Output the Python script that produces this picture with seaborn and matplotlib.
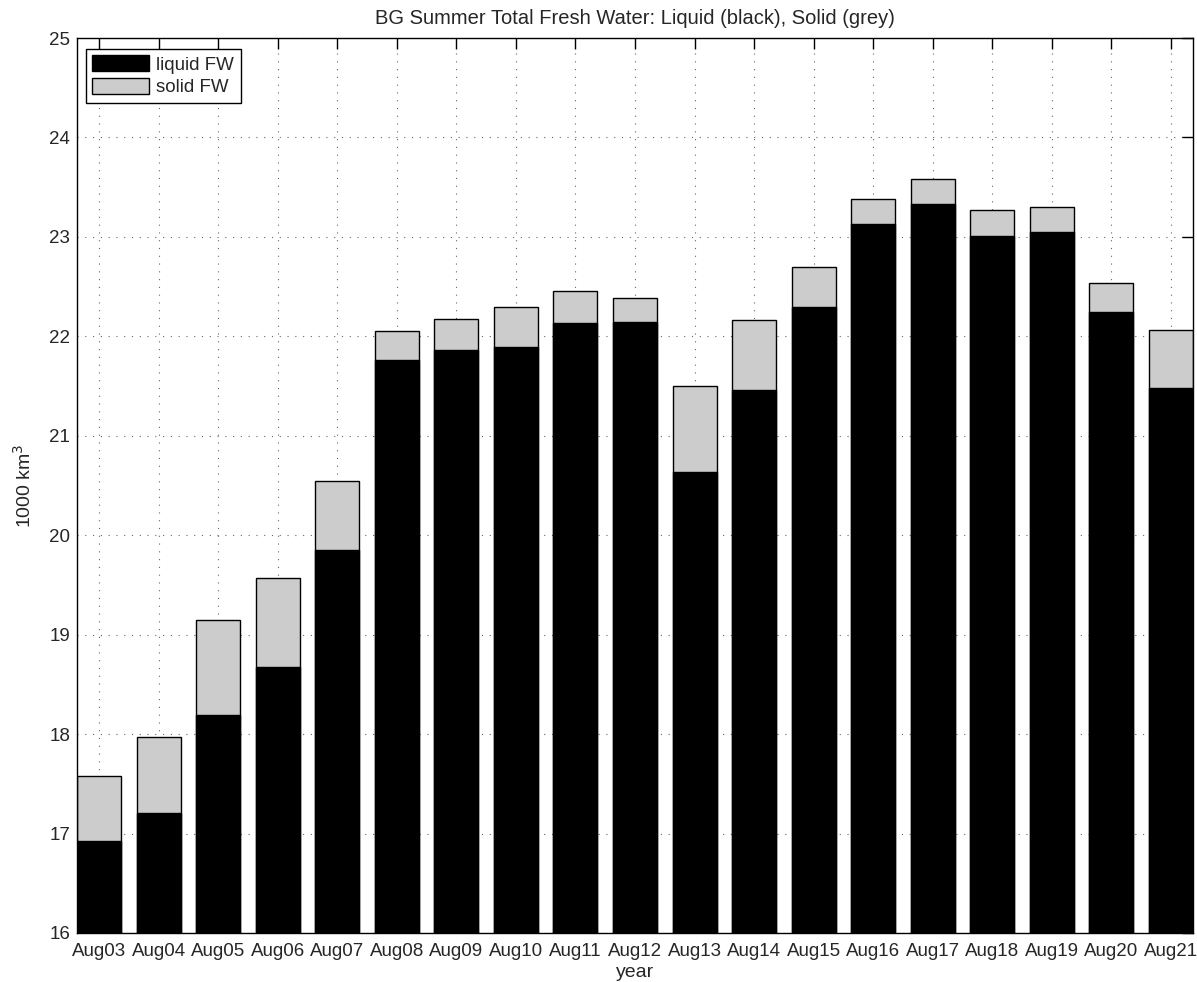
import numpy as np
import pandas as pd
import matplotlib
matplotlib.use("Agg")
import matplotlib.pyplot as plt
import matplotlib.patches as mpatches
import seaborn as sns

# Beaufort Gyre summer freshwater content, 1000 km^3
years = ["Aug03", "Aug04", "Aug05", "Aug06", "Aug07", "Aug08", "Aug09", "Aug10",
         "Aug11", "Aug12", "Aug13", "Aug14", "Aug15", "Aug16", "Aug17", "Aug18",
         "Aug19", "Aug20", "Aug21"]
liquid_fw = [16.93, 17.21, 18.19, 18.67, 19.85, 21.76, 21.86, 21.89, 22.13, 22.14,
             20.64, 21.46, 22.30, 23.13, 23.33, 23.01, 23.05, 22.24, 21.48]
total_fw = [17.58, 17.97, 19.15, 19.57, 20.55, 22.05, 22.17, 22.30, 22.46, 22.39,
            21.50, 22.16, 22.70, 23.38, 23.58, 23.27, 23.30, 22.54, 22.06]
solid_fw = [t - l for t, l in zip(total_fw, liquid_fw)]
y_ticks = [16, 17, 18, 19, 20, 21, 22, 23, 24, 25]

df = pd.DataFrame({"year": years, "liquid": liquid_fw, "total": total_fw})

sns.set_style("white")
plt.rcParams["font.family"] = ["Liberation Sans", "DejaVu Sans"]

fig = plt.figure(figsize=(11.97, 9.82), dpi=100)
ax = fig.add_axes([0.0643, 0.0499, 0.9324, 0.9114])

grey = "#cccccc"
bw = 0.74
# stacked bars: full column in grey, liquid part drawn over it in black
sns.barplot(data=df, x="year", y="total", color=grey, saturation=1, width=bw,
            edgecolor="black", linewidth=1.0, ax=ax, zorder=2)
sns.barplot(data=df, x="year", y="liquid", color="black", saturation=1, width=bw,
            edgecolor="black", linewidth=1.0, ax=ax, zorder=3)

ax.set_xlim(-bw / 2, len(years) - 1 + bw / 2)
ax.set_ylim(16, 25)
ax.set_yticks(y_ticks)
ax.set_yticklabels([str(v) for v in y_ticks])

ax.set_axisbelow(True)
ax.grid(True, linestyle=(0, (1, 6)), color="#666666", linewidth=0.8)

ax.tick_params(axis="both", direction="in", length=8, width=1.0, color="black",
               top=True, right=True, labelsize=13.5)
ax.tick_params(axis="x", pad=7)
ax.tick_params(axis="y", pad=5)
for s in ax.spines.values():
    s.set_visible(True)
    s.set_color("black")
    s.set_linewidth(1.0)

ax.set_xlabel("year", fontsize=14, labelpad=3)
ax.set_ylabel("1000 km$^3$", fontsize=14, labelpad=10)
ax.set_title("BG Summer Total Fresh Water: Liquid (black), Solid (grey)",
             fontsize=14.5, pad=10)

handles = [mpatches.Patch(facecolor="black", edgecolor="black", label="liquid FW"),
           mpatches.Patch(facecolor=grey, edgecolor="black", label="solid FW")]
leg = ax.legend(handles=handles, loc="upper left", fontsize=13.5, frameon=True,
                fancybox=False, edgecolor="black", framealpha=1,
                handlelength=3.0, handleheight=0.95, borderpad=0.35,
                labelspacing=0.2, handletextpad=0.4, borderaxespad=0,
                bbox_to_anchor=(0.008, 0.988))
leg.get_frame().set_linewidth(1.0)

fig.savefig("out.png", dpi=100)
